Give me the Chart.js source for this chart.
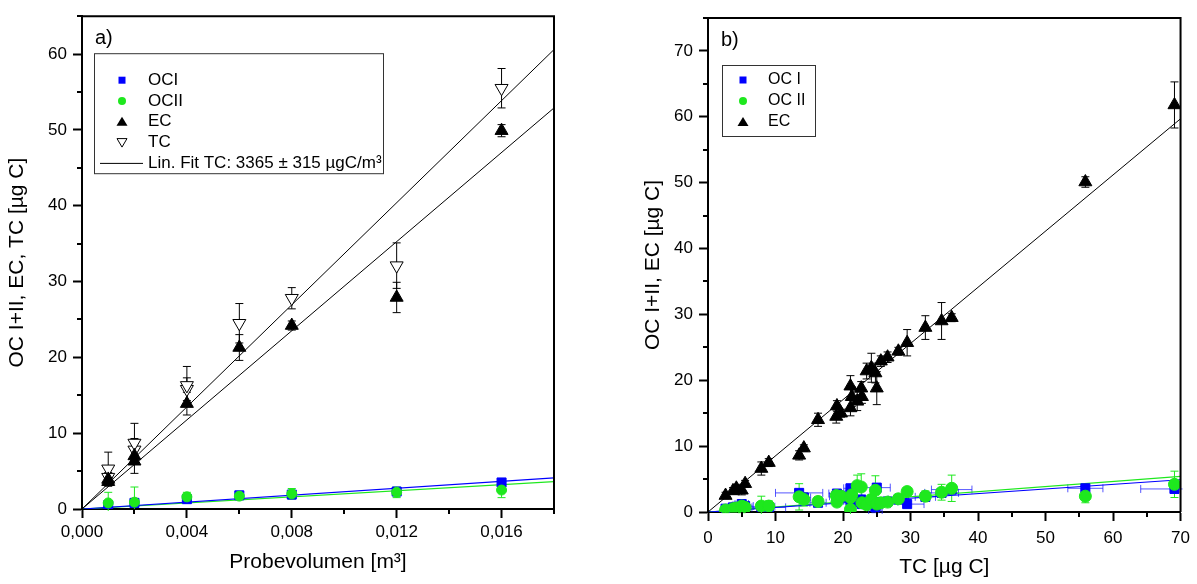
<!DOCTYPE html>
<html>
<head>
<meta charset="utf-8">
<script src="https://cdn.jsdelivr.net/npm/chart.js@4"></script>
<style>
  body { margin: 0; background: #fff; width: 1197px; height: 584px; position: relative; overflow: hidden; }
  .box { position: absolute; top: 0; height: 584px; }
  #boxA { left: 0; width: 590px; }
  #boxB { left: 600px; width: 597px; }
</style>
</head>
<body>
<div class="box" id="boxA"><canvas id="chartA"></canvas></div>
<div class="box" id="boxB"><canvas id="chartB"></canvas></div>
<script>
// ---------- panel a): carbon mass vs. sampled volume ----------
const volX     = [0.001, 0.002, 0.004, 0.006, 0.008, 0.012, 0.016];
const ociA     = [0.5, 0.8, 1.3, 1.8, 1.9, 2.3, 3.5];
const ociAErr  = [0.3, 0.6, 0.4, 0.3, 0.5, 0.5, 0.4];
const ociiA    = [0.8, 0.9, 1.6, 1.7, 2.0, 2.2, 2.5];
const ociiAErr = [1.4, 2.0, 0.6, 0.4, 0.7, 0.7, 1.0];

const volEcX   = [0.001, 0.001, 0.002, 0.002, 0.004, 0.006, 0.008, 0.012, 0.016];
const ecA      = [3.6, 3.9, 6.3, 7.0, 13.9, 21.3, 24.2, 27.9, 49.9];
const ecAErr   = [0.6, 0.5, 1.6, 0.8, 1.5, 1.7, 0.6, 2.0, 0.8];

const volTcX   = [0.001, 0.001, 0.002, 0.002, 0.004, 0.004, 0.006, 0.008, 0.012, 0.016];
const tcA      = [4.2, 5.3, 7.8, 8.7, 15.8, 16.3, 24.5, 27.8, 32.1, 55.5];
const tcAErr   = [0.6, 2.2, 1.5, 2.6, 1.5, 2.5, 2.6, 1.4, 3.0, 2.6];

// fitted lines (end points)
const fitAX      = [0, 0.018];
const fitTcA     = [0, 60.6];
const fitEcA     = [0, 52.9];
const fitOciA    = [0, 4.1];
const fitOciiA   = [0, 3.6];

const xTicksA      = [0, 0.004, 0.008, 0.012, 0.016];
const xMinorA      = [0.002, 0.006, 0.010, 0.014, 0.018];
const yMinorA      = [5, 15, 25, 35, 45, 55, 65];

// ---------- panel b): OC / EC vs. TC ----------
const tcB = [2.6, 3.7, 4.2, 5.0, 5.5, 7.9, 9.0, 13.5, 14.2, 16.3, 19.0, 19.1, 19.7, 21.1, 21.1, 21.3,
             22.1, 22.7, 22.8, 23.5, 24.2, 24.8, 25.0, 25.6, 26.6, 28.2, 29.5, 32.2, 34.6, 36.1, 55.9, 69.1];
const ecB = [2.5, 3.2, 3.6, 3.3, 4.3, 6.6, 7.5, 8.6, 9.7, 14.0, 14.5, 16.1, 15.0, 15.8, 19.1, 17.5,
             16.8, 18.8, 17.5, 21.4, 21.9, 21.1, 18.8, 22.9, 23.5, 24.4, 25.7, 28.0, 29.0, 29.5, 50.1, 61.8];
const ecBErr = [0.5, 0.5, 0.6, 0.7, 0.5, 1.0, 0.6, 0.7, 0.5, 1.0, 1.0, 0.8, 0.6, 1.2, 1.6, 1.5,
                1.4, 1.0, 1.0, 1.2, 2.2, 1.5, 2.5, 0.8, 0.8, 0.6, 2.0, 1.8, 2.8, 0.6, 0.8, 3.5];
const ociB = [0.5, 0.7, 0.8, 1.2, 0.9, 0.8, 0.7, 2.9, 2.2, 1.4, 2.4, 2.8, 2.3, 3.6, 1.7, 2.2,
              1.5, 1.9, 1.2, 1.3, 1.4, 0.3, 3.7, 1.5, 1.6, 1.9, 1.2, 2.3, 2.9, 3.4, 3.6, 3.5];
const ociBErr = [0.3, 0.3, 0.4, 0.4, 0.3, 0.4, 0.3, 0.5, 0.4, 0.4, 0.4, 0.4, 0.4, 0.5, 0.4, 0.4,
                 0.4, 0.4, 0.4, 0.4, 0.4, 0.4, 0.6, 0.4, 0.4, 0.4, 0.4, 0.4, 0.5, 0.5, 0.4, 0.5];
const ociBErrX = [0.6, 0.6, 0.8, 1.0, 1.2, 2.0, 2.5, 3.5, 1.0, 1.2, 1.0, 1.2, 1.0, 1.0, 1.0, 1.5,
                  1.0, 1.2, 1.0, 1.5, 1.0, 1.0, 2.0, 1.2, 1.5, 1.5, 2.5, 1.5, 2.5, 3.0, 2.6, 5.0];
const ociiB = [0.3, 0.5, 0.6, 0.9, 0.7, 0.9, 0.9, 2.3, 1.9, 1.6, 2.5, 1.5, 2.4, 0.4, 2.2, 2.6,
               4.0, 3.8, 1.4, 1.1, 1.9, 3.3, 1.2, 1.4, 1.5, 2.0, 3.1, 2.4, 3.0, 3.6, 2.4, 4.2];
const ociiBErr = [0.4, 0.5, 0.5, 1.0, 0.6, 1.5, 0.8, 2.0, 1.0, 0.7, 0.7, 0.6, 0.6, 0.8, 0.8, 1.0,
                  1.6, 2.0, 0.6, 0.6, 0.7, 2.2, 0.8, 0.6, 0.6, 0.7, 0.5, 0.8, 1.2, 2.0, 1.0, 2.0];

const fitBX    = [0, 70];
const fitEcB   = [0, 59.7];
const fitOciB  = [0, 4.9];
const fitOciiB = [0, 5.4];

const yMinorB = [5, 15, 25, 35, 45, 55, 65, 75];
const xMinorB = [5, 15, 25, 35, 45, 55, 65];

const FONT = '"Liberation Sans", Arial, sans-serif';
const BLUE = '#0000ff';
const GREEN = '#1ee81e';

function pts(xs, ys) {
  return xs.map((x, i) => ({ x: x, y: ys[i] }));
}

// error bars, drawn below the markers through the chart's scales
const errorBars = {
  id: 'errorBars',
  beforeDatasetsDraw(chart) {
    const { ctx, chartArea: a, scales: { x, y } } = chart;
    ctx.save();
    ctx.beginPath();
    ctx.rect(a.left - 2, a.top - 2, a.right - a.left + 4, a.bottom - a.top + 4);
    ctx.clip();
    chart.data.datasets.forEach(ds => {
      if (!ds.errY && !ds.errX) return;
      ctx.strokeStyle = ds.errColor || '#000';
      ctx.lineWidth = 1;
      ds.data.forEach((p, j) => {
        const px = x.getPixelForValue(p.x);
        const py = y.getPixelForValue(p.y);
        ctx.beginPath();
        if (ds.errY) {
          const t = y.getPixelForValue(p.y + ds.errY[j]);
          const b = y.getPixelForValue(p.y - ds.errY[j]);
          ctx.moveTo(px, t); ctx.lineTo(px, b);
          ctx.moveTo(px - 4, t); ctx.lineTo(px + 4, t);
          ctx.moveTo(px - 4, b); ctx.lineTo(px + 4, b);
        }
        if (ds.errX) {
          const l = x.getPixelForValue(p.x - ds.errX[j]);
          const r = x.getPixelForValue(p.x + ds.errX[j]);
          ctx.moveTo(l, py); ctx.lineTo(r, py);
          ctx.moveTo(l, py - 4); ctx.lineTo(l, py + 4);
          ctx.moveTo(r, py - 4); ctx.lineTo(r, py + 4);
        }
        ctx.stroke();
      });
    });
    ctx.restore();
  }
};

// closed frame, minor ticks and the panel letter
const frame = {
  id: 'frame',
  afterDraw(chart, args, o) {
    const { ctx, chartArea: a, scales: { x, y } } = chart;
    ctx.save();
    ctx.strokeStyle = '#000';
    ctx.lineWidth = 2;
    ctx.beginPath();
    ctx.moveTo(a.left, a.top); ctx.lineTo(a.right, a.top); ctx.lineTo(a.right, a.bottom);
    o.xMinor.forEach(v => {
      const px = Math.round(x.getPixelForValue(v));
      ctx.moveTo(px, a.bottom); ctx.lineTo(px, a.bottom + 5);
    });
    o.yMinor.forEach(v => {
      const py = Math.round(y.getPixelForValue(v));
      ctx.moveTo(a.left, py); ctx.lineTo(a.left - 5, py);
    });
    ctx.stroke();
    ctx.fillStyle = '#000';
    ctx.font = '20px ' + FONT;
    ctx.textBaseline = 'middle';
    ctx.fillText(o.tag, a.left + 13, a.top + 22);
    ctx.restore();
  }
};

function drawMark(ctx, kind, color, cx, cy) {
  ctx.fillStyle = color;
  ctx.strokeStyle = color;
  ctx.lineWidth = 1;
  ctx.beginPath();
  if (kind === 'rect') {
    ctx.fillRect(cx - 3.5, cy - 3.5, 7, 7);
  } else if (kind === 'circle') {
    ctx.arc(cx, cy, 4, 0, Math.PI * 2); ctx.fill();
  } else if (kind === 'tri') {
    ctx.moveTo(cx, cy - 5); ctx.lineTo(cx + 5.5, cy + 4); ctx.lineTo(cx - 5.5, cy + 4); ctx.closePath(); ctx.fill();
  } else if (kind === 'triDown') {
    ctx.moveTo(cx - 5, cy - 4); ctx.lineTo(cx + 5, cy - 4); ctx.lineTo(cx, cy + 4.5); ctx.closePath(); ctx.stroke();
  } else if (kind === 'line') {
    ctx.moveTo(cx - 22, cy); ctx.lineTo(cx + 21, cy); ctx.stroke();
  }
}

// legend box inside the plot area
const boxLegend = {
  id: 'boxLegend',
  afterDraw(chart, args, o) {
    const { ctx, chartArea: a } = chart;
    const bx = a.left + o.dx, by = a.top + o.dy;
    ctx.save();
    ctx.strokeStyle = '#333';
    ctx.lineWidth = 1;
    ctx.strokeRect(bx + 0.5, by + 0.5, o.w, o.h);
    ctx.font = o.size + 'px ' + FONT;
    ctx.textBaseline = 'middle';
    o.items.forEach((idx, k) => {
      const ds = chart.data.datasets[idx];
      const cy = by + o.row0 + k * o.rowH;
      drawMark(ctx, ds.legendMark, ds.legendColor, bx + o.markX, cy);
      ctx.fillStyle = '#000';
      ctx.fillText(ds.label, bx + o.textX, cy);
    });
    ctx.restore();
  }
};

function fitLine(xs, ys, color, width) {
  return {
    label: '', data: pts(xs, ys), showLine: true, pointRadius: 0,
    borderColor: color, borderWidth: width, order: 10
  };
}

function axis(min, max, step, fmt, titleText, titlePad, labelPad, fitSize, horizontal) {
  return {
    type: 'linear', min: min, max: max,
    border: { color: '#000', width: 2 },
    grid: { drawOnChartArea: false, tickLength: 9, tickWidth: 2, tickColor: '#000' },
    ticks: {
      stepSize: step, includeBounds: false, color: '#000', padding: labelPad,
      font: { family: FONT, size: 17 }, maxRotation: 0,
      callback: fmt
    },
    title: { display: true, text: titleText, color: '#000', font: { family: FONT, size: 21 }, padding: titlePad },
    afterFit(s) { if (horizontal) s.height = fitSize; else s.width = fitSize; }
  };
}

const baseOpts = {
  responsive: true, maintainAspectRatio: false, animation: false, events: [],
  plugins: { legend: { display: false }, tooltip: { enabled: false } }
};

// ---------- chart a ----------
new Chart(document.getElementById('chartA'), {
  type: 'scatter',
  data: {
    datasets: [
      { label: 'EC', data: pts(volEcX, ecA), errY: ecAErr, errColor: '#000',
        pointStyle: 'triangle', pointRadius: 7.5, backgroundColor: '#000', borderColor: '#000',
        legendMark: 'tri', legendColor: '#000' },
      { label: 'TC', data: pts(volTcX, tcA), errY: tcAErr, errColor: '#000',
        pointStyle: 'triangle', rotation: 180, pointRadius: 7.5, backgroundColor: '#fff', borderColor: '#000', borderWidth: 1,
        legendMark: 'triDown', legendColor: '#000' },
      { label: 'OCII', data: pts(volX, ociiA), errY: ociiAErr, errColor: GREEN,
        pointStyle: 'circle', pointRadius: 5, backgroundColor: GREEN, borderColor: GREEN,
        legendMark: 'circle', legendColor: GREEN },
      { label: 'OCI', data: pts(volX, ociA), errY: ociAErr, errColor: '#3a3aff',
        pointStyle: 'rect', pointRadius: 6.4, backgroundColor: BLUE, borderColor: BLUE,
        legendMark: 'rect', legendColor: BLUE },
      Object.assign(fitLine(fitAX, fitTcA, '#000', 1), { label: 'Lin. Fit TC: 3365 ± 315 µgC/m³', legendMark: 'line', legendColor: '#000' }),
      fitLine(fitAX, fitEcA, '#000', 1),
      fitLine(fitAX, fitOciA, BLUE, 1.2),
      fitLine(fitAX, fitOciiA, GREEN, 1.2)
    ]
  },
  options: Object.assign({}, baseOpts, {
    layout: { padding: { left: 0, right: 36, top: 16, bottom: 0 } },
    scales: {
      x: axis(0, 0.018, 0.004, v => xTicksA.some(t => Math.abs(t - v) < 1e-9) ? v.toFixed(3).replace('.', ',') : '',
              'Probevolumen [m³]', { top: 0, bottom: 9 }, 4, 75, true),
      y: axis(0, 65, 10, v => String(v), 'OC I+II, EC, TC [µg C]', { top: 5, bottom: 0 }, 6, 82, false)
    },
    plugins: Object.assign({}, baseOpts.plugins, {
      frame: { tag: 'a)', xMinor: xMinorA, yMinor: yMinorA },
      boxLegend: { dx: 12, dy: 37, w: 289, h: 120, size: 17, row0: 27, rowH: 20.8, markX: 28, textX: 54, items: [3, 2, 0, 1, 4] }
    })
  }),
  plugins: [errorBars, frame, boxLegend]
});

// ---------- chart b ----------
new Chart(document.getElementById('chartB'), {
  type: 'scatter',
  data: {
    datasets: [
      { label: 'EC', data: pts(tcB, ecB), errY: ecBErr, errColor: '#000',
        pointStyle: 'triangle', pointRadius: 7.5, backgroundColor: '#000', borderColor: '#000',
        legendMark: 'tri', legendColor: '#000' },
      { label: 'OC II', data: pts(tcB, ociiB), errY: ociiBErr, errColor: GREEN,
        pointStyle: 'circle', pointRadius: 6, backgroundColor: GREEN, borderColor: GREEN,
        legendMark: 'circle', legendColor: GREEN },
      { label: 'OC I', data: pts(tcB, ociB), errY: ociBErr, errX: ociBErrX, errColor: 'rgba(30,30,255,0.75)',
        pointStyle: 'rect', pointRadius: 6.4, backgroundColor: BLUE, borderColor: BLUE,
        legendMark: 'rect', legendColor: BLUE },
      fitLine(fitBX, fitEcB, '#000', 1),
      fitLine(fitBX, fitOciB, BLUE, 1.2),
      fitLine(fitBX, fitOciiB, GREEN, 1.2)
    ]
  },
  options: Object.assign({}, baseOpts, {
    layout: { padding: { left: 36, right: 14, top: 18, bottom: 0 } },
    scales: {
      x: axis(0, 70, 10, v => String(v), 'TC [µg C]', { top: 0, bottom: 4 }, 7, 72, true),
      y: axis(0, 75, 10, v => String(v), 'OC I+II, EC [µg C]', { top: 5, bottom: 0 }, 6, 72, false)
    },
    plugins: Object.assign({}, baseOpts.plugins, {
      frame: { tag: 'b)', xMinor: xMinorB, yMinor: yMinorB },
      boxLegend: { dx: 14, dy: 47, w: 93, h: 71, size: 16, row0: 15, rowH: 21, markX: 21, textX: 46, items: [2, 1, 0] }
    })
  }),
  plugins: [errorBars, frame, boxLegend]
});
</script>
</body>
</html>
